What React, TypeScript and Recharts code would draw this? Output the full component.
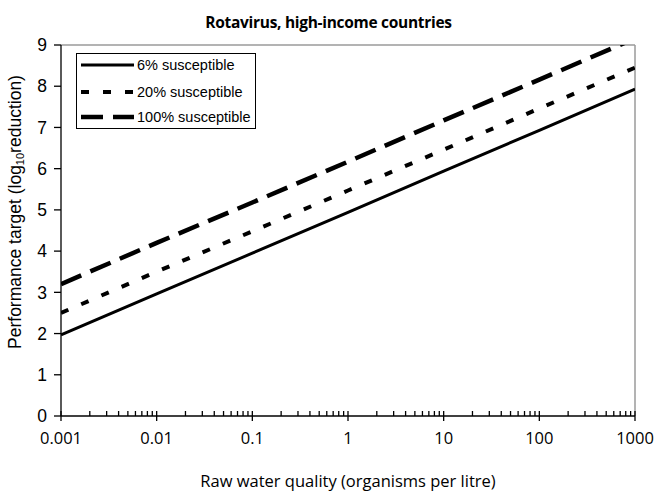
import React from 'react';
import { LineChart, Line, XAxis, YAxis, ReferenceLine, Legend } from 'recharts';

// Raw water quality (organisms per litre)
const xValues = [0.001, 0.01, 0.1, 1, 10, 100, 1000];
const xTickLabels = ['0.001', '0.01', '0.1', '1', '10', '100', '1000'];
// Performance target (log10 reduction)
const susceptible6 = [1.97, 2.96, 3.95, 4.94, 5.94, 6.93, 7.93];
const susceptible20 = [2.5, 3.5, 4.48, 5.47, 6.46, 7.46, 8.45];
const susceptible100 = [3.2, 4.2, 5.18, 6.17, 7.17, 8.16, 9.16];
const yTicks = [0, 1, 2, 3, 4, 5, 6, 7, 8, 9];
const seriesNames = ['6% susceptible', '20% susceptible', '100% susceptible'];
const seriesKeys = ['s6', 's20', 's100'];

const data = xValues.map((x, i) => ({
  x,
  s6: susceptible6[i],
  s20: susceptible20[i],
  s100: susceptible100[i],
}));

const minorTicks: number[] = [];
xValues.slice(0, -1).forEach((d) => {
  for (let k = 2; k <= 9; k++) minorTicks.push(+(d * k).toPrecision(6));
});
const allXTicks = [...xValues, ...minorTicks].sort((a, b) => a - b);

const seriesStyles = [
  { strokeWidth: 3, dash: undefined as string | undefined },
  { strokeWidth: 4, dash: '8 14' },
  { strokeWidth: 4.5, dash: '22 10' },
];

const XTick = (props: any) => {
  const { x, y, payload } = props;
  const v = payload.value;
  const idx = xValues.findIndex((t) => Math.abs(t - v) / t < 1e-6);
  if (idx >= 0) {
    return (
      <g>
        <line x1={x} x2={x} y1={y - 5} y2={y + 5} stroke="#000" strokeWidth={1.3} />
        <text
          x={x}
          y={y + 28}
          textAnchor="middle"
          fontFamily="'Open Sans', sans-serif"
          fontSize={16.5}
          fill="#000"
        >
          {xTickLabels[idx]}
        </text>
      </g>
    );
  }
  return <line x1={x} x2={x} y1={y - 5} y2={y} stroke="#000" strokeWidth={1.3} />;
};

const LegendBox = () => (
  <div
    style={{
      width: 180,
      height: 76,
      border: '1px solid #000',
      background: '#fff',
      boxSizing: 'border-box',
      position: 'relative',
    }}
  >
    <svg width={180} height={76} style={{ position: 'absolute', left: 0, top: 0 }}>
      {seriesNames.map((name, i) => {
        const cy = [11, 38, 63][i];
        const st = seriesStyles[i];
        return (
          <g key={name}>
            <line
              x1={4}
              x2={57}
              y1={cy}
              y2={cy}
              stroke="#000"
              strokeWidth={st.strokeWidth}
              strokeDasharray={st.dash}
            />
            <text
              x={60}
              y={cy}
              dy="0.36em"
              fontFamily="'Liberation Sans', Arial, sans-serif"
              fontSize={14.5}
              fill="#000"
            >
              {name}
            </text>
          </g>
        );
      })}
    </svg>
  </div>
);

export default function App() {
  return (
    <div style={{ position: 'absolute', left: 0, top: 0, width: 657, height: 497, background: '#fff' }}>
      <div
        style={{
          position: 'absolute',
          left: 0,
          top: 11,
          width: 657,
          textAlign: 'center',
          fontFamily: "'Open Sans', sans-serif",
          fontWeight: 700,
          fontSize: 15.5,
          letterSpacing: -0.3,
          lineHeight: '22px',
        }}
      >
        Rotavirus, high-income countries
      </div>
      <div
        style={{
          position: 'absolute',
          left: 15 - 200,
          top: 212 - 12,
          width: 400,
          height: 24,
          lineHeight: '24px',
          textAlign: 'center',
          transform: 'rotate(-90deg)',
          fontFamily: "'Liberation Sans', Arial, sans-serif",
          fontSize: 17.5,
          whiteSpace: 'nowrap',
        }}
      >
        Performance target (log<sub style={{ fontSize: 11, verticalAlign: '-3px', lineHeight: 0 }}>10</sub>reduction)
      </div>
      <div
        style={{
          position: 'absolute',
          left: 61,
          top: 470,
          width: 574,
          textAlign: 'center',
          fontFamily: "'Open Sans', sans-serif",
          fontSize: 16.5,
          lineHeight: '22px',
        }}
      >
        Raw water quality (organisms per litre)
      </div>
      <div style={{ position: 'absolute', left: 0, top: 0 }}>
        <LineChart
          width={657}
          height={497}
          data={data}
          margin={{ top: 45, right: 22, bottom: 0, left: 0 }}
        >
          <XAxis
            dataKey="x"
            type="number"
            scale="log"
            domain={[0.001, 1000]}
            ticks={allXTicks}
            interval={0}
            tickSize={0}
            tickMargin={0}
            tickLine={false}
            tick={<XTick />}
            height={81}
            axisLine={{ stroke: '#000', strokeWidth: 1.3 }}
            allowDataOverflow
          />
          <YAxis
            type="number"
            domain={[0, 9]}
            ticks={yTicks}
            interval={0}
            width={61}
            tickSize={7}
            tickMargin={7}
            allowDataOverflow
            axisLine={{ stroke: '#000', strokeWidth: 1.3 }}
            tickLine={{ stroke: '#000', strokeWidth: 1.3 }}
            tick={{ fill: '#000', fontSize: 17.5, fontFamily: "'Liberation Sans', Arial, sans-serif" }}
          />
          <ReferenceLine y={9} stroke="#9a9a9a" strokeWidth={1.5} />
          <ReferenceLine x={1000} stroke="#9a9a9a" strokeWidth={1.5} />
          <Legend
            layout="horizontal"
            verticalAlign="middle"
            align="center"
            content={() => <LegendBox />}
            wrapperStyle={{ position: 'absolute', left: 76, top: 53, width: 180, height: 76 }}
          />
          {seriesKeys.map((k, i) => (
            <Line
              key={k}
              type="linear"
              dataKey={k}
              name={seriesNames[i]}
              stroke="#000"
              strokeWidth={seriesStyles[i].strokeWidth}
              strokeDasharray={seriesStyles[i].dash}
              dot={false}
              activeDot={false}
              isAnimationActive={false}
            />
          ))}
        </LineChart>
      </div>
    </div>
  );
}
